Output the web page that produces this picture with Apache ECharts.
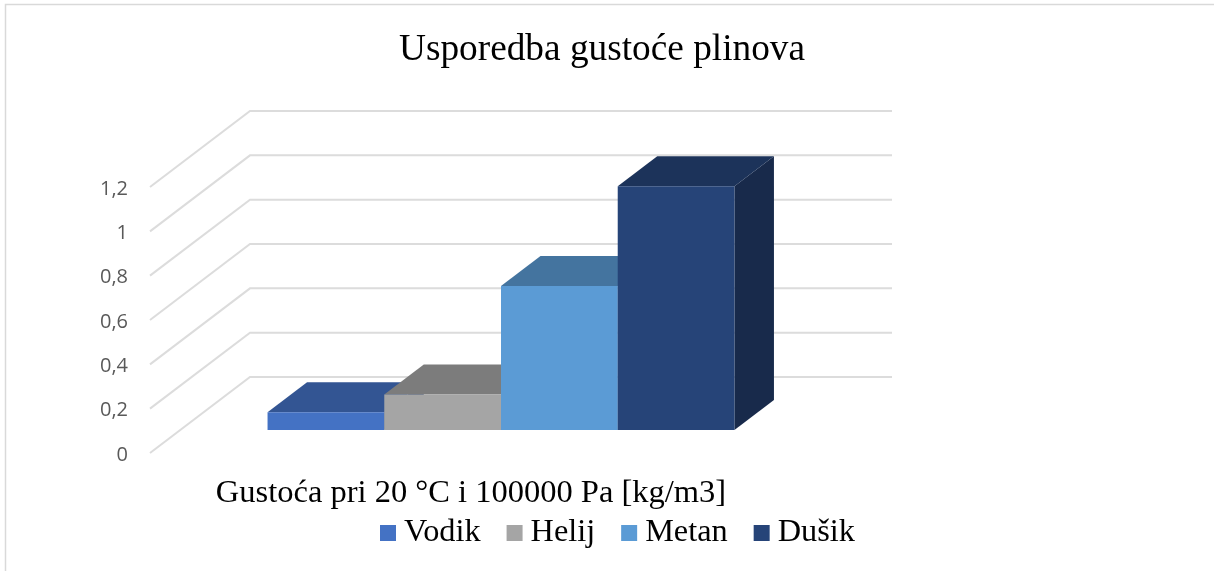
<!DOCTYPE html>
<html>
<head>
<meta charset="utf-8">
<style>html,body{margin:0;padding:0;background:#fff}#c{width:1214px;height:571px}</style>
<script src="https://cdn.jsdelivr.net/npm/echarts@6/dist/echarts.min.js"></script>
</head>
<body>
<div id="c"></div>
<script>
const categories = ['Gustoća pri 20 °C i 100000 Pa [kg/m3]'];
const seriesNames = ['Vodik', 'Helij', 'Metan', 'Dušik'];
const vodik = [0.08];
const helij = [0.16];
const metan = [0.65];
const dusik = [1.1];
const yTicks = [0, 0.2, 0.4, 0.6, 0.8, 1, 1.2];
const frontColors = ['#4472C4', '#A5A5A5', '#5B9BD5', '#264478'];
const topColors = ['#335593', '#7C7C7C', '#44749F', '#1C335A'];
const sideColors = ['#2A4678', '#666666', '#385F83', '#182A4B'];

const WALL_DX = 100, WALL_DY = -76;
const BAR_DX = 30, BAR_DY = -23;
const DEPTH_DX = 39.5, DEPTH_DY = -30;
const BAR_FRACTION = 1 / 5.5;

function wallRender(params, api) {
  const cs = params.coordSys;
  const y = api.coord([0, api.value(0)])[1];
  const style = { stroke: '#DCDCDC', lineWidth: 2, fill: 'none' };
  return {
    type: 'polyline', silent: true,
    shape: { points: [[cs.x, y], [cs.x + WALL_DX, y + WALL_DY], [cs.x + cs.width + WALL_DX, y + WALL_DY]] },
    style: style
  };
}

function barRender(index) {
  return function (params, api) {
    const band = api.size([1, 0])[0];
    const w = band * BAR_FRACTION;
    const top = api.coord([0, api.value(1)]);
    const base = api.coord([0, 0]);
    const x0 = top[0] + (index - 2) * w + BAR_DX;
    const x1 = x0 + w;
    const yt = top[1] + BAR_DY;
    const yb = base[1] + BAR_DY;
    return {
      type: 'group', silent: true,
      children: [
        { type: 'polygon', shape: { points: [[x1, yt], [x1 + DEPTH_DX, yt + DEPTH_DY], [x1 + DEPTH_DX, yb + DEPTH_DY], [x1, yb]] }, style: { fill: sideColors[index] } },
        { type: 'polygon', shape: { points: [[x0, yt], [x0 + DEPTH_DX, yt + DEPTH_DY], [x1 + DEPTH_DX, yt + DEPTH_DY], [x1, yt]] }, style: { fill: topColors[index] } },
        { type: 'rect', shape: { x: x0, y: yt, width: w, height: yb - yt }, style: { fill: frontColors[index] } }
      ]
    };
  };
}

const values = [vodik, helij, metan, dusik];
const chart = echarts.init(document.getElementById('c'), null, { renderer: 'canvas' });
chart.setOption({
  animation: false,
  backgroundColor: '#fff',
  title: {
    text: 'Usporedba gustoće plinova',
    left: 597, top: 27, textAlign: 'center',
    textStyle: { fontFamily: 'Liberation Serif', fontSize: 37.3, fontWeight: 'normal', color: '#000' }
  },
  legend: {
    data: seriesNames, icon: 'rect',
    left: 375, top: 512,
    itemWidth: 16, itemHeight: 16, itemGap: 26,
    textStyle: { fontFamily: 'Liberation Serif', fontSize: 32.3, color: '#000', padding: [0, 0, 0, 3] }
  },
  grid: { left: 150, right: 422, top: 187, bottom: 118 },
  xAxis: {
    type: 'category', data: categories,
    axisLine: { show: false }, axisTick: { show: false }, splitLine: { show: false },
    axisLabel: { margin: 24, fontFamily: 'Liberation Serif', fontSize: 32.5, color: '#000' }
  },
  yAxis: {
    type: 'value', min: 0, max: 1.2, interval: 0.2,
    axisLine: { show: false }, axisTick: { show: false }, splitLine: { show: false },
    axisLabel: {
      margin: 22, fontFamily: 'Open Sans', fontSize: 20, color: '#595959',
      verticalAlign: 'top', lineHeight: 4,
      formatter: v => String(+v.toFixed(1)).replace('.', ',')
    }
  },
  graphic: [{
    type: 'rect', silent: true, z: -1,
    shape: { x: 5.5, y: 4.5, width: 1400, height: 800 },
    style: { fill: 'none', stroke: '#D9D9D9', lineWidth: 1.5 }
  }],
  series: [
    { type: 'custom', name: 'walls', renderItem: wallRender, data: yTicks.map(v => [v]), encode: { y: 0 }, silent: true, z: 1 }
  ].concat(seriesNames.map((name, i) => ({
    type: 'custom', name: name,
    renderItem: barRender(i),
    data: values[i].map((v, k) => [k, v]),
    encode: { x: 0, y: 1 },
    itemStyle: { color: frontColors[i] },
    silent: true, z: 2 + i
  })))
});
</script>
</body>
</html>
